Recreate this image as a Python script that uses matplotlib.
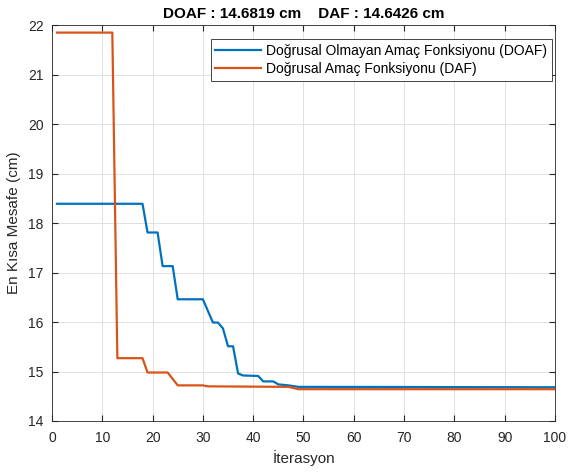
#!/usr/bin/env python3
# -*- coding: utf-8 -*-
"""Convergence of DOAF vs DAF shortest distance over iterations."""

import matplotlib
matplotlib.use("Agg")
import matplotlib.pyplot as plt

doaf_iter = [1, 18, 19, 21, 22, 24, 25, 30, 32, 33, 34, 35, 36, 37, 38, 41, 42, 44, 45, 47, 49, 100]
doaf_dist = [18.39, 18.39, 17.81, 17.81, 17.13, 17.13, 16.46, 16.46, 15.99, 15.99, 15.87, 15.51,
             15.51, 14.96, 14.92, 14.91, 14.80, 14.80, 14.74, 14.72, 14.69, 14.6819]
daf_iter = [1, 12, 13, 18, 19, 23, 24, 25, 30, 31, 47, 49, 100]
daf_dist = [21.85, 21.85, 15.27, 15.27, 14.98, 14.98, 14.85, 14.72, 14.72, 14.70, 14.69, 14.6426, 14.6426]

x_ticks = list(range(0, 101, 10))
y_ticks = list(range(14, 23))

plt.rcParams["font.family"] = ["Liberation Sans", "DejaVu Sans"]
plt.rcParams["font.size"] = 10

fig = plt.figure(figsize=(5.68, 4.75), dpi=100)
ax = fig.add_axes([0.0915, 0.1137, 0.8855, 0.8333])

ax.plot(doaf_iter, doaf_dist, color="#0072BD", linewidth=1.6,
        label="Doğrusal Olmayan Amaç Fonksiyonu (DOAF)")
ax.plot(daf_iter, daf_dist, color="#D95319", linewidth=1.6,
        label="Doğrusal Amaç Fonksiyonu (DAF)")

ax.set_xlim(0, 100)
ax.set_ylim(14, 22)
ax.set_xticks(x_ticks)
ax.set_yticks(y_ticks)
ax.grid(True, color="#dcdcdc", linewidth=0.6)
ax.set_axisbelow(True)
ax.tick_params(direction="in", length=4, colors="#262626", labelsize=10, top=True, right=True,
               labeltop=False, labelright=False)
ax.tick_params(axis="x", pad=7)
ax.tick_params(axis="y", pad=6)
for s in ax.spines.values():
    s.set_color("#262626")
    s.set_linewidth(0.6)

ax.set_xlabel("İterasyon", fontsize=11, color="#262626", labelpad=4)
ax.set_ylabel("En Kısa Mesafe (cm)", fontsize=11, color="#262626", labelpad=5)
ax.set_title("DOAF : 14.6819 cm    DAF : 14.6426 cm", fontsize=11, fontweight="bold", pad=5)

leg = ax.legend(loc="upper right", bbox_to_anchor=(0.994, 0.965), borderaxespad=0,
                fontsize=10, fancybox=False, framealpha=1, edgecolor="#262626",
                handlelength=3.3, handletextpad=0.35, labelspacing=0.3, borderpad=0.35)
leg.get_frame().set_linewidth(0.6)

fig.savefig("out.png", dpi=100)
